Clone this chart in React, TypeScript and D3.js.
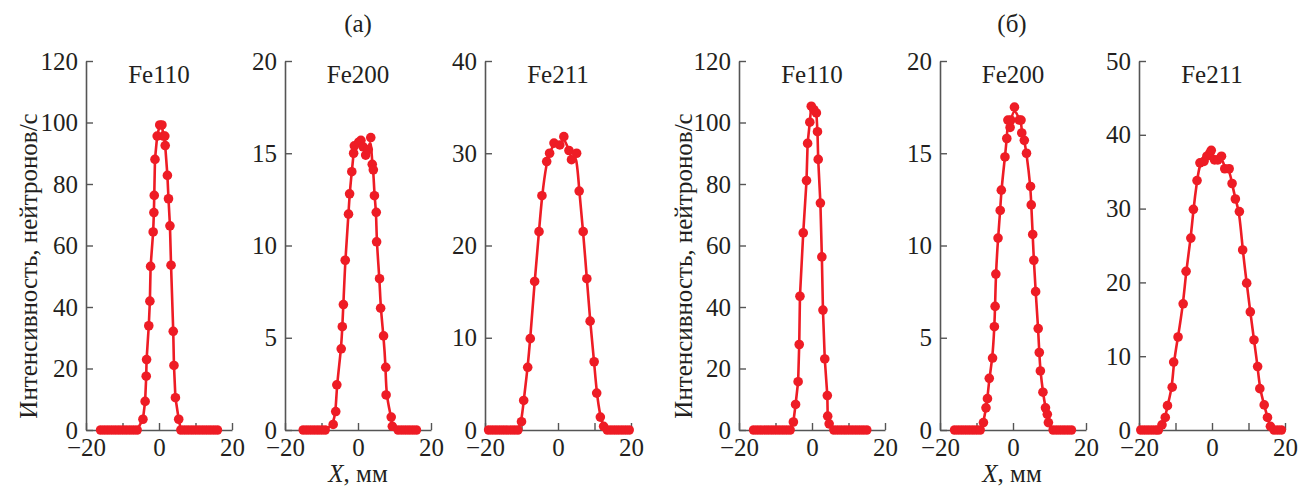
import React, { useRef, useEffect } from "react";
import * as d3 from "d3";

// (а) measured profiles, X in mm, intensity in neutrons/s
const fe110a: [number, number][] = [
  [-16, 0], [-15, 0], [-14, 0], [-13, 0], [-12, 0], [-11, 0], [-10, 0], [-9, 0], [-8, 0], [-7, 0], [-6, 0],
  [-4.4, 3.5], [-3.8, 9.3], [-3.5, 17.5], [-3.4, 22.9], [-2.8, 33.9], [-2.5, 41.9], [-2.3, 53.2],
  [-1.6, 64.4], [-1.4, 70.7], [-1.3, 76.3], [-1.1, 88], [-0.5, 95.6], [0.2, 99.2], [0.8, 99.2],
  [1.2, 95.6], [1.6, 95.6], [1.7, 92.5], [2.3, 82.8], [2.6, 75.2], [3.0, 66.4], [3.3, 53.6],
  [3.9, 32.1], [4.1, 21], [4.5, 10.5], [5.4, 3.5],
  [6, 0], [7, 0], [8, 0], [9, 0], [10, 0], [11, 0], [12, 0], [13, 0], [14, 0], [15, 0], [16, 0],
];

const fe200a: [number, number][] = [
  [-15, 0], [-14, 0], [-13, 0], [-12, 0], [-11, 0], [-10, 0], [-9, 0],
  [-6.8, 0.3], [-6.1, 1.0], [-5.8, 2.45], [-4.6, 4.4], [-4.3, 5.6], [-4.0, 6.8], [-3.5, 9.2],
  [-2.6, 11.7], [-2.3, 12.8], [-1.7, 14.0], [-1.2, 15.0], [-1.0, 15.4], [0.2, 15.6], [0.8, 15.7],
  [1.4, 15.35], [2.1, 14.9], [2.8, 15.2], [3.5, 15.85], [3.9, 14.4], [4.2, 14.1], [4.5, 12.7],
  [5.0, 11.8], [5.1, 10.2], [5.9, 8.2], [6.2, 6.6], [7.0, 5.1], [7.6, 3.4], [7.7, 1.9],
  [9.1, 0.7], [9.4, 0.2],
  [11, 0], [12, 0], [13, 0], [14, 0], [15, 0], [16, 0],
];

const fe211a: [number, number][] = [
  [-19, 0], [-18, 0], [-17, 0], [-16, 0], [-15, 0], [-14, 0], [-13, 0], [-12, 0], [-11, 0],
  [-10.0, 0.9], [-9.4, 3.2], [-8.3, 6.8], [-7.6, 9.9], [-6.4, 16.1], [-5.2, 21.5], [-4.4, 25.4],
  [-3.1, 29.1], [-2.3, 30.0], [-1.1, 31.1], [0.5, 30.9], [1.6, 31.8], [3.0, 30.3], [3.7, 29.3],
  [5.1, 30.0], [5.8, 25.9], [6.9, 21.5], [7.9, 16.4], [8.8, 11.8], [9.9, 7.4], [10.6, 4.0],
  [11.6, 1.4], [12.5, 0.4],
  [13.5, 0], [14.5, 0], [15.5, 0], [16.5, 0], [17.5, 0], [18.5, 0], [19.5, 0],
];

// (б)
const fe110b: [number, number][] = [
  [-16, 0], [-15, 0], [-14, 0], [-13, 0], [-12, 0], [-11, 0], [-10, 0], [-9, 0], [-8, 0], [-7, 0], [-6, 0],
  [-5.1, 2.6], [-4.5, 8.3], [-3.8, 15.7], [-3.5, 27.8], [-3.3, 43.5], [-2.4, 64.1], [-1.5, 81.1],
  [-1.2, 93.2], [-0.6, 100.1], [-0.2, 105.3], [0.5, 104.2], [1.2, 103.1], [1.5, 97.0], [1.7, 88],
  [2.3, 73.8], [2.7, 56.3], [3.0, 39.0], [3.5, 23.1], [4.2, 11.2], [4.3, 4.5], [4.7, 2.0],
  [6, 0], [7, 0], [8, 0], [9, 0], [10, 0], [11, 0], [12, 0], [13, 0], [14, 0], [15, 0],
];

const fe200b: [number, number][] = [
  [-16, 0], [-15, 0], [-14, 0], [-13, 0], [-12, 0], [-11, 0], [-10, 0], [-9, 0],
  [-8.1, 0.4], [-7.4, 1.2], [-7.0, 1.7], [-6.5, 2.8], [-5.6, 3.9], [-5.1, 5.6], [-4.9, 6.7],
  [-4.7, 8.45], [-4.1, 10.4], [-3.5, 11.9], [-3.2, 13.0], [-2.2, 14.8], [-1.7, 15.8], [-1.4, 16.8],
  [-0.8, 16.4], [-0.6, 16.8], [0.4, 17.5], [1.7, 16.8], [2.2, 16.8], [2.4, 16.1], [3.1, 15.7],
  [3.7, 15.0], [4.8, 13.2], [5.0, 12.2], [5.4, 10.6], [5.7, 9.2], [6.2, 7.5], [6.9, 5.5],
  [7.2, 4.2], [7.5, 3.2], [8.2, 2.05], [8.9, 1.2], [9.4, 0.85], [9.7, 0.4],
  [11, 0], [12, 0], [13, 0], [14, 0], [15, 0], [16, 0],
];

const fe211b: [number, number][] = [
  [-19.5, 0], [-18.5, 0], [-17.5, 0], [-16.5, 0], [-15.5, 0], [-14.7, 0],
  [-13.7, 0.7], [-12.8, 1.7], [-12.2, 3.3], [-10.9, 5.8], [-10.5, 9.2], [-9.3, 12.6], [-7.9, 17.1],
  [-7.1, 21.5], [-5.8, 26.0], [-5.1, 29.9], [-4.1, 33.8], [-3.3, 36.2], [-2.2, 36.4], [-1.4, 37.1],
  [-0.6, 37.5], [-0.2, 37.9], [0.7, 36.6], [1.6, 36.6], [2.6, 37.1], [3.5, 35.4], [4.7, 35.4],
  [5.5, 33.4], [6.4, 31.3], [7.5, 29.6], [8.4, 24.4], [9.5, 19.9], [10.5, 16.0], [11.5, 12.2],
  [12.5, 8.6], [13.1, 5.6], [14.3, 3.4], [15.2, 1.7], [16.0, 0.5],
  [17, 0], [18, 0], [19, 0],
];

const peakNames = ["Fe110", "Fe200", "Fe211", "Fe110", "Fe200", "Fe211"];
const yMaxes = [120, 20, 40, 120, 20, 50];
const yTickSets = [
  [0, 20, 40, 60, 80, 100, 120],
  [0, 5, 10, 15, 20],
  [0, 10, 20, 30, 40],
  [0, 20, 40, 60, 80, 100, 120],
  [0, 5, 10, 15, 20],
  [0, 10, 20, 30, 40, 50],
];
const xTicks = [-20, -10, 0, 10, 20];
const xTickLabels = [-20, 0, 20];
const groupTitles = ["(а)", "(б)"];
const yTitle = "Интенсивность, нейтронов/с";

const seriesList = [fe110a, fe200a, fe211a, fe110b, fe200b, fe211b];

// layout (pixels)
const W = 1301;
const H = 487;
const panelLeft = [86, 285, 485, 739, 940, 1139];
const panelW = 146;
const top = 61;
const bottom = 430;
const red = "#ee1c25";
const axisColor = "#555";
const textColor = "#231f20";
const font = "Liberation Serif";
const fontSize = 25;

const App = () => {
  const svgRef = useRef<SVGSVGElement>(null);

  useEffect(() => {
    const svg = d3.select(svgRef.current);
    svg.selectAll("*").remove();

    seriesList.forEach((data, i) => {
      const x = d3.scaleLinear().domain([-20, 20]).range([panelLeft[i], panelLeft[i] + panelW]);
      const y = d3.scaleLinear().domain([0, yMaxes[i]]).range([bottom, top]);
      const g = svg.append("g");

      const yAxis = d3
        .axisLeft(y)
        .tickValues(yTickSets[i])
        .tickSizeInner(-7)
        .tickSizeOuter(0)
        .tickPadding(8)
        .tickFormat(d3.format("d"));
      const ya = g.append("g").attr("transform", `translate(${panelLeft[i]},0)`).call(yAxis);

      const xAxis = d3
        .axisBottom(x)
        .tickValues(xTicks)
        .tickSizeInner(-7)
        .tickSizeOuter(0)
        .tickPadding(8)
        .tickFormat((d) => (xTickLabels.includes(+d) ? d3.format("d")(+d) : ""));
      const xa = g.append("g").attr("transform", `translate(0,${bottom})`).call(xAxis);

      [ya, xa].forEach((a) => {
        a.attr("font-family", font).attr("font-size", fontSize);
        a.select(".domain").attr("stroke", axisColor).attr("stroke-width", 1.6);
        a.selectAll(".tick line").attr("stroke", axisColor).attr("stroke-width", 1.4);
        a.selectAll(".tick text")
          .attr("fill", textColor)
          .attr("font-family", font)
          .attr("font-size", fontSize);
      });

      const line = d3
        .line<[number, number]>()
        .x((d) => x(d[0]))
        .y((d) => y(d[1]))
        .curve(i % 3 === 0 ? d3.curveLinear : d3.curveBasis);

      g.append("path")
        .datum(data)
        .attr("d", line)
        .attr("fill", "none")
        .attr("stroke", red)
        .attr("stroke-width", 2.6);

      g.selectAll("circle.pt")
        .data(data)
        .enter()
        .append("circle")
        .attr("class", "pt")
        .attr("cx", (d) => x(d[0]))
        .attr("cy", (d) => y(d[1]))
        .attr("r", 4.8)
        .attr("fill", red);

      g.append("text")
        .attr("x", x(0))
        .attr("y", 83)
        .attr("text-anchor", "middle")
        .attr("font-family", font)
        .attr("font-size", fontSize)
        .attr("fill", textColor)
        .text(peakNames[i]);
    });

    // group titles, y titles and x titles
    [0, 1].forEach((k) => {
      const mid = k === 0 ? 358 : 1012;
      svg.append("text")
        .attr("x", mid)
        .attr("y", 32)
        .attr("text-anchor", "middle")
        .attr("font-family", font)
        .attr("font-size", fontSize)
        .attr("fill", textColor)
        .text(groupTitles[k]);

      const yx = k === 0 ? 37 : 692;
      svg.append("text")
        .attr("transform", `translate(${yx},266) rotate(-90)`)
        .attr("text-anchor", "middle")
        .attr("font-family", font)
        .attr("font-size", fontSize)
        .attr("fill", textColor)
        .text(yTitle);

      const xt = svg.append("text")
        .attr("x", mid)
        .attr("y", 482)
        .attr("text-anchor", "middle")
        .attr("font-family", font)
        .attr("font-size", fontSize)
        .attr("fill", textColor);
      xt.append("tspan").attr("font-style", "italic").text("X");
      xt.append("tspan").text(", мм");
    });
  }, []);

  return (
    <svg
      ref={svgRef}
      width={W}
      height={H}
      style={{ position: "absolute", left: 0, top: 0, background: "#fff" }}
    />
  );
};

export default App;
